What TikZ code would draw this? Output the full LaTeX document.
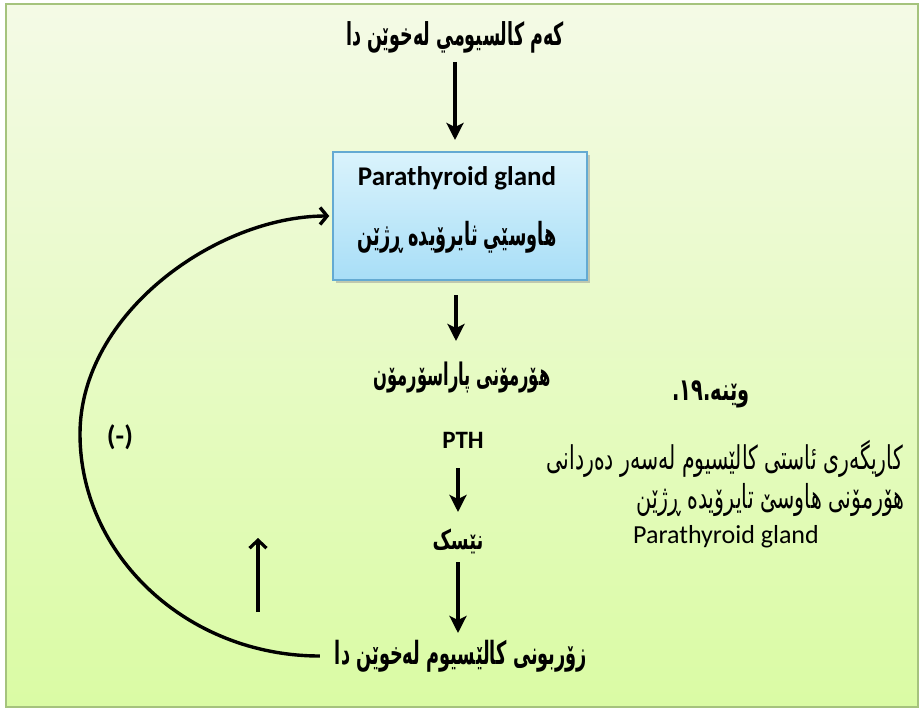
\documentclass[tikz,border=0pt]{standalone}
\usepackage{fontspec}
\usepackage{graphicx}
\setmainfont{Carlito}
\newfontfamily\ku[Script=Arabic]{DejaVu Sans}
\TeXXeTstate=1
\usetikzlibrary{arrows.meta,shadows}

% Kurdish text, scaled to a given width and stretched upright
\newcommand\kureg[3]{\scalebox{1}[#3]{\resizebox{#1}{!}{\ku #2}}}
\newcommand\kubold[3]{\scalebox{1}[#3]{\resizebox{#1}{!}{\ku\bfseries #2}}}

\definecolor{frameline}{RGB}{165,195,125}
\definecolor{pagetop}{RGB}{244,250,230}
\definecolor{pagebot}{RGB}{218,251,164}
\definecolor{boxtop}{RGB}{218,243,252}
\definecolor{boxbot}{RGB}{168,222,247}
\definecolor{boxline}{RGB}{100,170,210}

\tikzset{
  lbl/.style={inner sep=0pt, text=black},
  glandbox/.style={rectangle, draw=boxline, line width=1.5pt,
    top color=boxtop, bottom color=boxbot,
    minimum width=254pt, minimum height=128pt,
    drop shadow={shadow xshift=3pt, shadow yshift=-3pt, fill=black!45, opacity=.45}},
  flow/.style={line width=3.4pt, -{Stealth[length=17pt,width=17pt,inset=4pt]}},
  loop/.style={line width=3.4pt, -{Straight Barb[length=7pt,width=17pt]}},
  rise/.style={line width=3.2pt, -{Straight Barb[length=8pt,width=17pt]}},
}

\begin{document}
\begin{tikzpicture}[x=1pt,y=-1pt]
\useasboundingbox (0,0) rectangle (921,709);

% page frame with its soft green gradient
\draw[frameline, line width=1.2pt, top color=pagetop, bottom color=pagebot]
  (6,4) rectangle (918,707);

% main chain
\node[lbl] (low) at (455,37) {\kubold{218pt}{\beginR كەم كالسيومي لەخوێن دا\endR}{1.8}};
\node[glandbox] (gland) at (460,216) {};
\node[lbl] (glandEn) at (457,178) {\fontsize{27}{31}\selectfont\bfseries Parathyroid gland};
\node[lbl] (glandKu) at (457,237) {\kubold{199pt}{\beginR هاوسێي ثايرۆيده ڕژێن\endR}{1.8}};
\node[lbl] (hormone) at (462,377) {\kubold{177pt}{\beginR هۆرمۆنی پاراسۆرمۆن\endR}{1.9}};
\node[lbl] (pth) at (463,440) {\fontsize{25}{29}\selectfont\bfseries PTH};
\node[lbl] (bone) at (458,541) {\kubold{51pt}{\beginR نێسک\endR}{1.5}};
\node[lbl] (high) at (461,656) {\kubold{252pt}{\beginR زۆربونی کالێسیوم لەخوێن دا\endR}{1.8}};

% feedback label and marker
\node[lbl] (neg) at (120,437) {\fontsize{28}{32}\selectfont\bfseries (-)};
\coordinate (riseFoot) at (258,612);
\coordinate (riseHead) at (258,538);
\coordinate (loopLeft) at (80,434);

% caption on the right
\node[lbl] (fig) at (711,394) {\kubold{77pt}{\beginR وێنە.١٩.\endR}{1.6}};
\node[lbl, anchor=east] (cap1) at (903,459) {\kureg{356pt}{\beginR کاریگەری ئاستی کالێسیوم لەسەر دەردانی\endR}{1.6}};
\node[lbl, anchor=east] (cap2) at (905,500) {\kureg{268pt}{\beginR هۆرمۆنی هاوسێ تایرۆیدە ڕژێن\endR}{1.6}};
\node[lbl] (cap3) at (726,537) {\fontsize{26}{30}\selectfont Parathyroid gland};

% arrows down the chain
\draw[flow] (455,62) -- (455,140);
\draw[flow] (456,295) -- (456,341);
\draw[flow] (458,468) -- (458,512);
\draw[flow] (458,562) -- (458,633);

% negative feedback loop back to the gland
\draw[loop] ([xshift=-15pt]high.west) .. controls +(-133,0) and +(0,121) .. (loopLeft)
  .. controls +(0,-121) and +(-112,0) .. ([xshift=-3pt]gland.west);
\draw[rise] (riseFoot) -- (riseHead);
\end{tikzpicture}
\end{document}
